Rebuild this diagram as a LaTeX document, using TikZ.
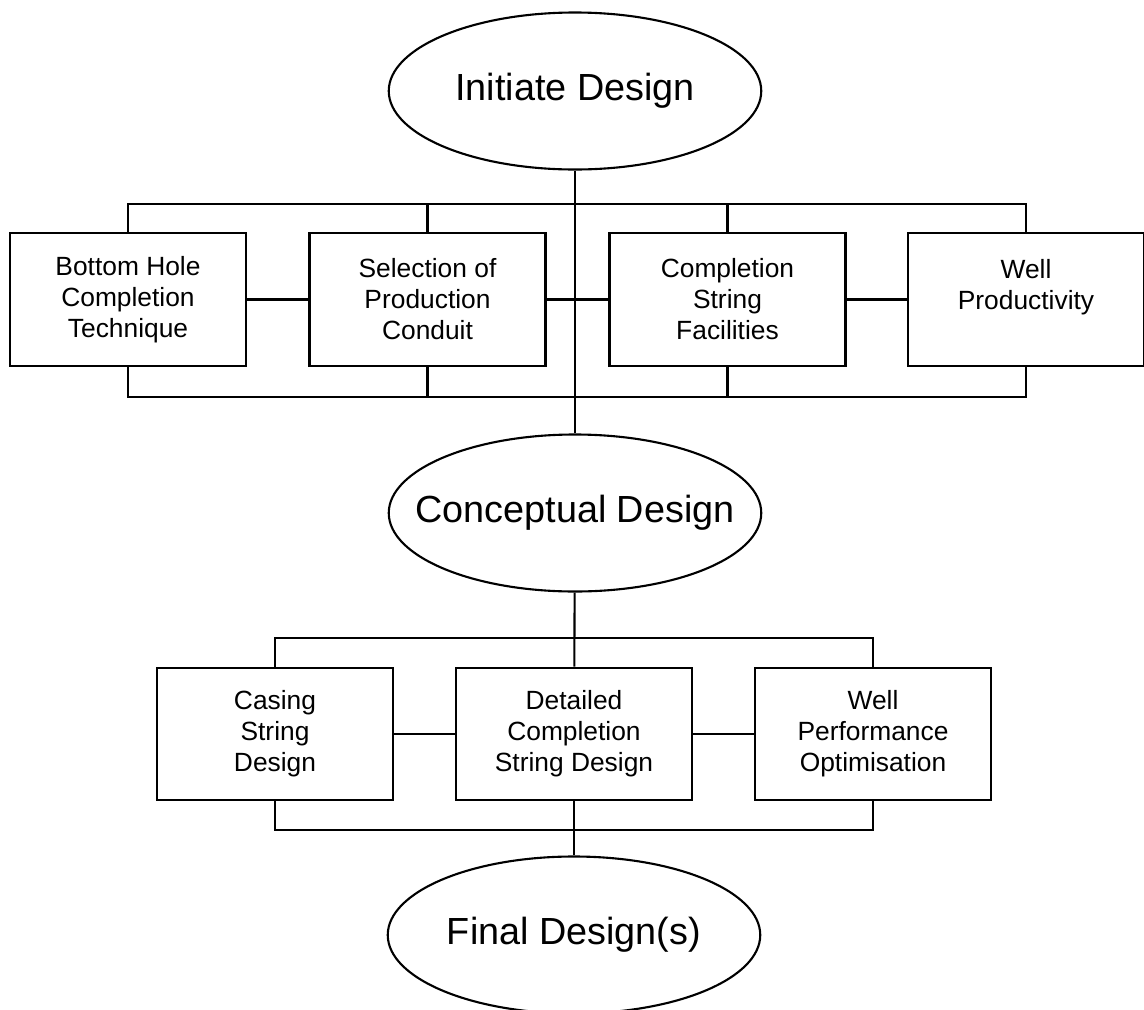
\documentclass[tikz,border=0pt]{standalone}
\usepackage{fontspec}
\setmainfont{Liberation Sans}
\usetikzlibrary{shapes.geometric}

\begin{document}
\begin{tikzpicture}[line width=1.2pt,
        stage/.style={ellipse, draw, inner xsep=-1cm, inner ysep=-0.3cm,
            minimum width=7.45cm, minimum height=3.14cm,
            font=\fontsize{21.5}{26}\selectfont},
        task/.style={rectangle, draw, inner sep=0pt,
            minimum width=4.72cm, minimum height=2.65cm, align=center,
            font=\fontsize{15}{17.6}\selectfont}
    ]
        \useasboundingbox (0,0) rectangle (22.88,-20.2);

        % design stages down the middle
        \node[stage] (init) at (11.5,-1.82) {Initiate Design};
        \node[stage] (concept) at (11.5,-10.26) {Conceptual Design};
        \node[stage] (final) at (11.48,-18.7) {Final Design(s)};

        % first row of tasks
        \foreach \name/\x/\labeltext in {b1/2.56/{Bottom Hole\\Completion\\Technique}, b2/8.55/{Selection of\\Production\\Conduit}, b3/14.55/{Completion\\String\\Facilities}, b4/20.52/{Well\\Productivity\\\phantom{X}}}{
            \node[task] (\name) at (\x,-5.99) {\labeltext};
        }
        \coordinate (topbar) at (0,-4.08);
        \coordinate (lowbar) at (0,-7.94);
        \draw (b1.north) |- (b4.north |- topbar) -- (b4.north);
        \draw (b1.south) |- (b4.south |- lowbar) -- (b4.south);
        \foreach \name in {b2, b3}{
            \draw (\name.north) -- (\name.north |- topbar);
            \draw (\name.south) -- (\name.south |- lowbar);
        }
        \draw (b1) -- (b2);
        \draw (b2) -- (b3);
        \draw (b3) -- (b4);
        \draw (init) -- (concept);

        % second row of tasks
        \foreach \name/\x/\labeltext in {c1/5.5/{Casing\\String\\Design}, c2/11.48/{Detailed\\Completion\\String Design}, c3/17.46/{Well\\Performance\\Optimisation}}{
            \node[task] (\name) at (\x,-14.68) {\labeltext};
        }
        \coordinate (topbar2) at (0,-12.76);
        \coordinate (lowbar2) at (0,-16.6);
        \draw (c1.north) |- (c3.north |- topbar2) -- (c3.north);
        \draw (c1.south) |- (c3.south |- lowbar2) -- (c3.south);
        \draw (c1) -- (c2);
        \draw (c2) -- (c3);
        \draw (concept) -- (c2);
        \draw (c2) -- (final);
    \end{tikzpicture}
\end{document}
